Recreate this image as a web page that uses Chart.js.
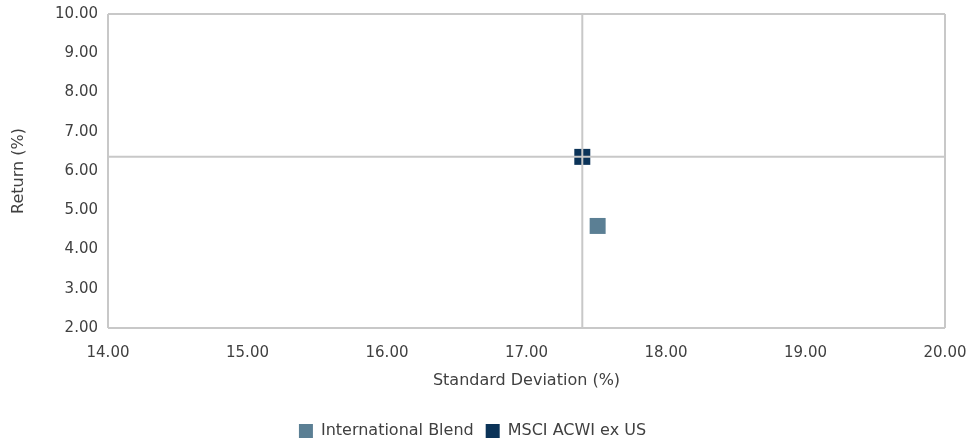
<!DOCTYPE html>
<html>
<head>
<meta charset="utf-8">
<script src="https://cdn.jsdelivr.net/npm/chart.js@4"></script>
<style>
  html, body { margin: 0; padding: 0; background: #fff; }
  #wrap { width: 972px; height: 443px; }
</style>
</head>
<body>
<div id="wrap"><canvas id="myChart" width="972" height="443"></canvas></div>
<script>
const seriesNames = ['International Blend', 'MSCI ACWI ex US'];
const stdDev = [17.51, 17.40];
const returns = [4.60, 6.36];
const seriesColors = ['#5B7F94', '#0B3358'];

const xRange = [14, 20];
const yRange = [2, 10];

const lineColor = '#C8C8C8';
const textColor = '#404040';
const fontFamily = '"DejaVu Sans", sans-serif';

function edgeOnly(range) {
    return (ctx) => {
        const v = ctx.tick ? ctx.tick.value : null;
        return (v === range[0] || v === range[1]) ? lineColor : 'rgba(0,0,0,0)';
    };
}

function initChart(target) {
    const pointSets = seriesNames.map((name, i) => ({
        label: name,
        data: [{ x: stdDev[i], y: returns[i] }],
        backgroundColor: seriesColors[i],
        borderColor: seriesColors[i],
        borderWidth: 0,
        pointStyle: 'rect',
        pointRadius: 11.3,
        pointHoverRadius: 11.3,
        order: 2
    }));

    // crosshair through the benchmark
    const bench = seriesNames.length - 1;
    const crossSets = [
        { data: [{ x: stdDev[bench], y: yRange[0] }, { x: stdDev[bench], y: yRange[1] }] },
        { data: [{ x: xRange[0], y: returns[bench] }, { x: xRange[1], y: returns[bench] }] }
    ].map((set) => ({
        label: '',
        data: set.data,
        showLine: true,
        borderColor: lineColor,
        borderWidth: 2,
        pointRadius: 0,
        pointHoverRadius: 0,
        order: 1
    }));

    const config = {
        type: 'scatter',
        data: { datasets: pointSets.concat(crossSets) },
        options: {
            responsive: false,
            animation: false,
            layout: { padding: { top: 14, right: 27, left: 0, bottom: -6 } },
            plugins: {
                tooltip: { enabled: false },
                legend: {
                    position: 'bottom',
                    labels: {
                        filter: (item) => item.text !== '',
                        boxWidth: 14,
                        boxHeight: 14,
                        padding: 12,
                        color: textColor,
                        font: { family: fontFamily, size: 16 }
                    }
                }
            },
            scales: {
                x: {
                    type: 'linear',
                    min: xRange[0],
                    max: xRange[1],
                    afterFit: (scale) => {
                        scale.height = 83;
                        scale.paddingLeft = 0;
                        scale.paddingRight = 0;
                    },
                    ticks: {
                        stepSize: 1,
                        color: textColor,
                        padding: 16,
                        font: { family: fontFamily, size: 15 },
                        callback: (v) => v.toFixed(2)
                    },
                    grid: { color: edgeOnly(xRange), lineWidth: 2, drawTicks: false },
                    border: { display: false },
                    title: {
                        display: true,
                        text: 'Standard Deviation (%)',
                        color: textColor,
                        font: { family: fontFamily, size: 16 },
                        padding: { top: 10, bottom: 21 }
                    }
                },
                y: {
                    type: 'linear',
                    min: yRange[0],
                    max: yRange[1],
                    afterFit: (scale) => {
                        scale.width = 108;
                        scale.paddingTop = 0;
                        scale.paddingBottom = 0;
                    },
                    ticks: {
                        stepSize: 1,
                        color: textColor,
                        padding: 10,
                        font: { family: fontFamily, size: 15 },
                        callback: (v) => v.toFixed(2)
                    },
                    grid: { color: edgeOnly(yRange), lineWidth: 2, drawTicks: false },
                    border: { display: false },
                    title: {
                        display: true,
                        text: 'Return (%)',
                        color: textColor,
                        font: { family: fontFamily, size: 16 },
                        padding: { top: 9, bottom: 0 }
                    }
                }
            }
        }
    };

    return new Chart(target, config);
}

document.addEventListener('DOMContentLoaded', () => {
    initChart(document.querySelector('#myChart'));
});
</script>
</body>
</html>
